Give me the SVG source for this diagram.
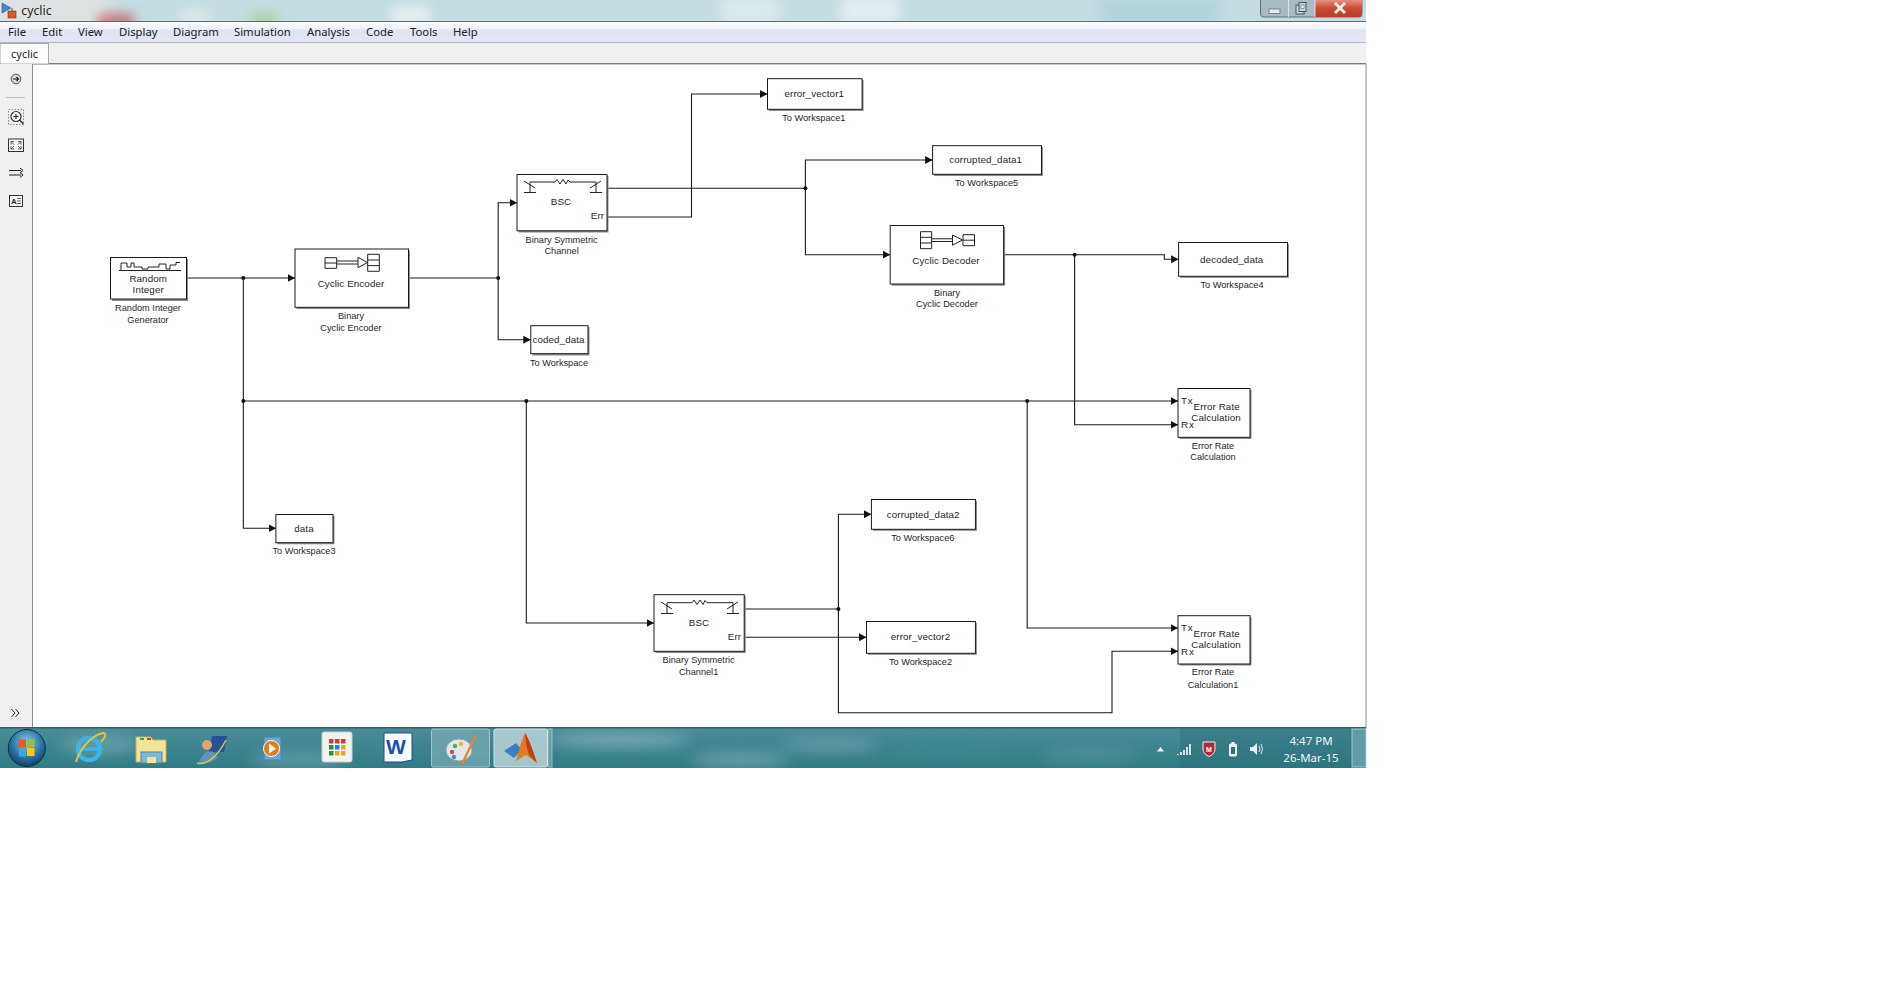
<svg xmlns="http://www.w3.org/2000/svg" width="1890" height="998" viewBox="0 0 1890 998">
<style>
text{font-family:"Liberation Sans",Arial,sans-serif;fill:#262626}
.in{font-size:9.8px;text-anchor:middle;letter-spacing:.1px}
.lb{font-size:9.2px;text-anchor:middle}
.pt{font-size:9.9px;letter-spacing:.8px}
.pe{font-size:9.9px;text-anchor:end}
.mn{font-family:"Noto Sans",sans-serif;font-size:11.3px;fill:#222}
.b{fill:#fff;stroke:#1a1a1a;stroke-width:1}
.s{fill:#8a8a8a}
.ic{fill:none;stroke:#222;stroke-width:1}
.w{fill:none;stroke:#1a1a1a;stroke-width:1.1}
.a{marker-end:url(#arr)}
.j{fill:#111}
.tr{font-family:"Noto Sans",sans-serif;font-size:11.5px;fill:#f2f6f6;text-anchor:middle}
</style>
<defs>
<marker id="arr" markerUnits="userSpaceOnUse" markerWidth="9" markerHeight="9" refX="7.500" refY="4.500" orient="auto"><path d="M0,.5 L7.500,4.500 L0,8.500 Z" fill="#111"/></marker>
<filter id="bl" x="-50%" y="-100%" width="200%" height="300%"><feGaussianBlur stdDeviation="7"/></filter>
<filter id="bl2" x="-60%" y="-150%" width="220%" height="400%"><feGaussianBlur stdDeviation="6"/></filter>
<clipPath id="tc"><rect x="0" y="0" width="1366" height="21"/></clipPath>
<clipPath id="kc"><rect x="0" y="728" width="1366" height="40"/></clipPath>
<linearGradient id="mg" x1="0" y1="0" x2="0" y2="1"><stop offset="0" stop-color="#fdfdfe"/><stop offset=".35" stop-color="#eef0f8"/><stop offset=".4" stop-color="#dfe3f3"/><stop offset="1" stop-color="#e4e7f4"/></linearGradient>
<linearGradient id="kg" x1="0" y1="0" x2="0" y2="1"><stop offset="0" stop-color="#4b8d97"/><stop offset="1" stop-color="#2f7b86"/></linearGradient>
<linearGradient id="cg" x1="0" y1="0" x2="0" y2="1"><stop offset="0" stop-color="#e8998c"/><stop offset=".5" stop-color="#cf4a33"/><stop offset="1" stop-color="#b5402c"/></linearGradient>
<radialGradient id="og" cx=".5" cy=".35" r=".65"><stop offset="0" stop-color="#8cc8e8"/><stop offset=".6" stop-color="#2a78a8"/><stop offset="1" stop-color="#123f63"/></radialGradient>
</defs>
<rect width="1890" height="998" fill="#fff"/>

<g id="window-chrome">
<rect x="0" y="0" width="1366" height="21" fill="#c4dce2"/>
<g clip-path="url(#tc)">
<rect x="-20" y="-10" width="130" height="40" fill="#dfe2e2" filter="url(#bl)"/>
<rect x="98" y="14" width="36" height="14" fill="#c8585a" opacity=".8" filter="url(#bl2)"/>
<rect x="180" y="8" width="30" height="20" fill="#e6ecec" opacity=".7" filter="url(#bl2)"/>
<rect x="250" y="12" width="28" height="14" fill="#a9cf9a" opacity=".8" filter="url(#bl2)"/>
<rect x="390" y="6" width="40" height="20" fill="#eef3f3" opacity=".8" filter="url(#bl2)"/>
<rect x="720" y="-4" width="60" height="30" fill="#dbe9ec" filter="url(#bl)"/>
<rect x="840" y="-4" width="60" height="30" fill="#e2eef0" filter="url(#bl)"/>
<rect x="1100" y="-4" width="120" height="30" fill="#b2d2da" filter="url(#bl)"/>
</g>
<rect x="0" y="21" width="1366" height="1" fill="#5d6a6e"/>
<rect x="0" y="22" width="1366" height="20" fill="url(#mg)"/>
<rect x="0" y="42" width="1366" height="1" fill="#b3b5bd"/>
<rect x="0" y="43" width="1366" height="20" fill="#f0f0f0"/>
<rect x="0" y="63" width="1366" height="1.400" fill="#7f7f7f"/>
<path d="M0,43.500 H48.500 V64 H0 Z" fill="#fff" stroke="#a8a8a8" stroke-width="1"/>
<rect x="0" y="64" width="32" height="664" fill="#f0f0f0"/>
<rect x="32" y="64" width="1" height="664" fill="#8e8e8e"/>
<rect x="1365.500" y="64" width="1" height="664" fill="#8e8e8e"/>
<path d="M2,3 L11,8 L2,13 Z" fill="#3d8fd0" stroke="#1f5f96" stroke-width=".6"/>
<rect x="8" y="11" width="8" height="7" fill="#d9582b" stroke="#8a3517" stroke-width=".6"/>
<path d="M12,8 V11" stroke="#555" fill="none"/>
<text class="mn" x="21.300" y="15" style="font-size:12.300px">cyclic</text>
<text class="mn" x="8" y="36">File</text>
<text class="mn" x="42" y="36">Edit</text>
<text class="mn" x="78" y="36">View</text>
<text class="mn" x="119" y="36">Display</text>
<text class="mn" x="173" y="36">Diagram</text>
<text class="mn" x="234" y="36">Simulation</text>
<text class="mn" x="307" y="36">Analysis</text>
<text class="mn" x="366" y="36">Code</text>
<text class="mn" x="410" y="36">Tools</text>
<text class="mn" x="453" y="36">Help</text>
<text class="mn" x="11" y="58" style="font-size:11px">cyclic</text>
<rect x="1260.500" y="-2" width="101.500" height="19" rx="3" fill="#a9bcc3" stroke="#5f6f76"/>
<path d="M1315,-1 H1359 a3,3 0 0 1 3,3 V14 a3,3 0 0 1 -3,3 H1315 Z" fill="url(#cg)"/>
<path d="M1288.500,0 V17 M1315,0 V17" stroke="#e8eef0" stroke-width=".8"/>
<rect x="1269" y="9" width="11" height="4.500" fill="#e6eaec" stroke="#56646a" stroke-width=".7"/>
<rect x="1296" y="5" width="8" height="9" fill="#cfd8dc" stroke="#46545a"/><rect x="1299" y="2.500" width="7" height="9" fill="#cfd8dc" stroke="#46545a"/><rect x="1301" y="5" width="3" height="3.500" fill="#fff" stroke="#46545a" stroke-width=".6"/>
<path d="M1335,3 L1345,13 M1345,3 L1335,13" stroke="#f1ece6" stroke-width="3"/>
<g id="toolbar">
<circle cx="16" cy="79" r="4.800" fill="#d8d8d8" stroke="#555"/><path d="M13,79 H18 M16.500,77 L18.500,79 L16.500,81" fill="none" stroke="#222" stroke-width="1.200"/>
<path d="M6,97.500 H25" stroke="#bbb"/>
<rect x="8.500" y="109.500" width="15" height="15" fill="none" stroke="#888" stroke-dasharray="1.500 1.500"/>
<circle cx="16" cy="116.500" r="5" fill="#fff" stroke="#333" stroke-width="1.200"/><path d="M13.500,116.500 H18.500 M16,114 V119 M19.500,120 L23.500,124" stroke="#222" stroke-width="1.200"/>
<rect x="8.500" y="139" width="15" height="12.500" fill="#f5f5f5" stroke="#333"/><path d="M11,141.500 H14 M11,141.500 V144.500 M11,141.500 L14,144.500 M21,141.500 H18 M21,141.500 V144.500 M21,141.500 L18,144.500 M11,149 H14 M11,149 V146 M11,149 L14,146 M21,149 H18 M21,149 V146 M21,149 L18,146" stroke="#444" stroke-width=".8" fill="none"/>
<path d="M9,170.500 H21 M9,175 H21 M20,168 L23,170.500 L20,173 M20,172.500 L23,175 L20,177.500" class="ic" stroke-width=".9"/>
<rect x="9.500" y="195.500" width="13" height="11" fill="#fafafa" stroke="#333"/>
<text x="11" y="204" style="font-size:8px;font-weight:bold">A</text><path d="M17,198.500 H21 M17,201 H21 M17,203.500 H21" stroke="#333" stroke-width=".8"/>
<path d="M11.500,709 L15,713 L11.500,717 M15.500,709 L19,713 L15.500,717" class="ic"/>
</g>
</g>

<g id="taskbar">
<rect x="0" y="728" width="1366" height="40" fill="url(#kg)"/>
<g clip-path="url(#kc)">
<ellipse cx="100" cy="745" rx="40" ry="10" fill="#7fb4bc" opacity=".5" filter="url(#bl)"/>
<ellipse cx="300" cy="760" rx="50" ry="10" fill="#7fb4bc" opacity=".45" filter="url(#bl)"/>
<ellipse cx="620" cy="740" rx="70" ry="8" fill="#9cc2c8" opacity=".5" filter="url(#bl)"/>
<ellipse cx="740" cy="760" rx="50" ry="8" fill="#88b4ba" opacity=".6" filter="url(#bl)"/>
<ellipse cx="830" cy="745" rx="50" ry="8" fill="#8ab8be" opacity=".4" filter="url(#bl)"/>
<ellipse cx="950" cy="750" rx="60" ry="8" fill="#3c8f9a" opacity=".5" filter="url(#bl)"/>
<ellipse cx="1090" cy="755" rx="50" ry="8" fill="#6aa4ac" opacity=".4" filter="url(#bl)"/>
<rect x="1180" y="728" width="190" height="40" fill="#2b6f78" opacity=".45"/>
</g>
<rect x="0" y="727" width="1366" height="1.500" fill="#3f5b60"/>
<circle cx="26.800" cy="748" r="18.500" fill="url(#og)" stroke="#0e2f47"/>
<rect x="18.500" y="739.500" width="7.500" height="8" fill="#e8582a"/><rect x="27" y="739" width="7.500" height="8" fill="#8cc63f"/><rect x="19" y="748.500" width="7" height="8" fill="#3fa7e0"/><rect x="27" y="748" width="7.500" height="8" fill="#f7c22a"/>
<circle cx="89" cy="749" r="11" fill="none" stroke="#3fb2e8" stroke-width="4.500"/><path d="M80,749 H98" stroke="#3fb2e8" stroke-width="3.500"/><path d="M76,762 C80,748 92,735 103,733 C107,733 105,738 101,742" fill="none" stroke="#e3c03e" stroke-width="2"/>
<path d="M136,737 H151 L153,740 H166 V762 H136 Z" fill="#f5e39a" stroke="#c9ae55"/><rect x="141" y="752" width="21" height="11" fill="#7fb6d2" stroke="#4c87a6"/><rect x="147" y="757" width="9" height="6" fill="#f5e39a"/><rect x="140" y="738" width="4" height="2" fill="#3f9f4a"/><rect x="147" y="738" width="4" height="2" fill="#c84a3a"/>
<path d="M212,736 H227 L224,752 H209 Z" fill="#2a4f9a"/><circle cx="207" cy="745" r="5" fill="#d9a66e"/><path d="M199,762 C203,752 208,750 213,752 L218,757 C212,763 204,765 199,762 Z" fill="#5e95b8"/><path d="M197,763 C206,766 218,756 226,740" fill="none" stroke="#d9c63f" stroke-width="1.500"/>
<rect x="264" y="737" width="17" height="23" rx="1" fill="#69a9d4" stroke="#4a86b0"/><circle cx="271.500" cy="748.500" r="8" fill="#e87a1e" stroke="#fff"/><path d="M269,743.500 L276,748.500 L269,753.500 Z" fill="#fff"/>
<rect x="322" y="732" width="30" height="30" rx="2" fill="#f3f3f1" stroke="#ccc"/>
<g><rect x="329" y="739" width="4.500" height="4.500" fill="#cc3b3b"/><rect x="335" y="739" width="4.500" height="4.500" fill="#cc3b3b"/><rect x="341" y="739" width="4.500" height="4.500" fill="#cc3b3b"/><rect x="329" y="745" width="4.500" height="4.500" fill="#2a8f4a"/><rect x="335" y="745" width="4.500" height="4.500" fill="#2d7fc9"/><rect x="341" y="745" width="4.500" height="4.500" fill="#e8a623"/><rect x="329" y="751" width="4.500" height="4.500" fill="#2a8f4a"/><rect x="335" y="751" width="4.500" height="4.500" fill="#e8a623"/><rect x="341" y="751" width="4.500" height="4.500" fill="#e8a623"/></g>
<path d="M384,733 H412 V760 L402,762 H384 Z" fill="#f8fbfd" stroke="#1e4b9e"/>
<text x="386" y="754" style="font-size:21px;font-weight:bold;fill:#1c4fa8">W</text>
<rect x="431.500" y="729" width="58" height="38" rx="2" fill="#7eb0b8" opacity=".65" stroke="#d7e5e8"/>
<rect x="494" y="729" width="53.500" height="38" rx="2" fill="#b9d3d7" opacity=".85" stroke="#eef4f5"/>
<rect x="548" y="729" width="4" height="38" fill="#7eb0b8" opacity=".6" stroke="#d7e5e8"/>
<ellipse cx="459" cy="750" rx="13" ry="11" fill="#e4e7ea" stroke="#98a2a8"/><circle cx="452" cy="752" r="2.200" fill="#d24a4a"/><circle cx="455" cy="746" r="2.200" fill="#5aa95a"/><circle cx="461" cy="744" r="2.200" fill="#e8b93a"/><circle cx="454" cy="757" r="2.200" fill="#4a86c8"/><path d="M476,735 L462,764" stroke="#d98a3a" stroke-width="2.500"/>
<path d="M504,751 L516,743 L522,750 L514,758 Z" fill="#3a7fc0"/><path d="M525,733 C530,741 534,754 537,763 L526,755 L516,761 C519,751 521,741 525,733 Z" fill="#e8781f"/><path d="M525,733 C530,741 534,754 537,763 L529,755 L526,744 Z" fill="#b8431a"/>
<path d="M1157,751.500 L1160.500,747 L1164,751.500 Z" fill="#f0f4f4"/>
<path d="M1178,755 V754 M1181,755 V752 M1184,755 V750 M1187,755 V747 M1190,755 V744" stroke="#eef4f4" stroke-width="1.700" fill="none"/>
<path d="M1203,742 H1215 V749 C1215,753 1212,755 1209,756.500 C1206,755 1203,753 1203,749 Z" fill="#b02a3a" stroke="#f2f2f2"/><text x="1209" y="751.500" style="font-size:7px;fill:#fff;text-anchor:middle;font-weight:bold">M</text>
<rect x="1229.500" y="744" width="7" height="12" rx="1" fill="#e8eef0" stroke="#f5f7f7"/><rect x="1231.500" y="742" width="3" height="2" fill="#f0f4f4"/><rect x="1231" y="747" width="4" height="7" fill="#2f6f78"/>
<path d="M1250,747 H1253 L1257,743 V755 L1253,751 H1250 Z" fill="#e8eef0"/><path d="M1259,746 Q1261,749 1259,752 M1261,744 Q1264,749 1261,754" fill="none" stroke="#dfe8ea"/>
<text class="tr" x="1311" y="745">4:47 PM</text>
<text class="tr" x="1311" y="762">26-Mar-15</text>
<rect x="1352" y="729" width="14" height="38" fill="#5f9ca6" stroke="#b7d2d6" stroke-width=".8"/>
</g>

<g id="connectors">
<path class="w a" d="M186.600,278 H295"/>
<path class="w" d="M243.300,278 V401"/>
<path class="w a" d="M243.300,401 V528.300 H276"/>
<path class="w a" d="M243.300,401 H1178"/>
<path class="w a" d="M526.300,401 V623 H654"/>
<path class="w a" d="M1027.200,401 V628 H1178"/>
<path class="w" d="M408.500,278 H498.200"/>
<path class="w a" d="M498.200,278 V202.700 H517"/>
<path class="w a" d="M498.200,278 V339.700 H530.800"/>
<path class="w" d="M607,188.300 H805.400"/>
<path class="w a" d="M607,217 H691.500 V94 H767.400"/>
<path class="w a" d="M805.400,188.300 V160 H932.600"/>
<path class="w a" d="M805.400,188.300 V254.700 H890.200"/>
<path class="w a" d="M1003.600,254.700 H1164.300 V259.300 H1178.600"/>
<path class="w a" d="M1074.600,254.700 V424.700 H1178"/>
<path class="w" d="M744.200,609 H838.400"/>
<path class="w a" d="M838.400,609 V514.300 H871.400"/>
<path class="w a" d="M838.400,609 V712.700 H1112 V651.300 H1178"/>
<path class="w a" d="M744.200,637.300 H866.500"/>
<circle class="j" cx="243.300" cy="278" r="2"/>
<circle class="j" cx="243.300" cy="401" r="2"/>
<circle class="j" cx="526.300" cy="401" r="2"/>
<circle class="j" cx="1027.200" cy="401" r="2"/>
<circle class="j" cx="498.200" cy="278" r="2"/>
<circle class="j" cx="805.400" cy="188.300" r="2"/>
<circle class="j" cx="1074.600" cy="254.700" r="2"/>
<circle class="j" cx="838.400" cy="609" r="2"/>
</g>

<g id="random-integer">
<rect class="s" x="112" y="259" width="76" height="42"/>
<rect class="b" x="110.500" y="257.500" width="76" height="41.500"/>
<path class="ic" stroke-width=".8" d="M119,270.500 H181 M121,270 V263 H127 V267 H131 V263 H134 V267 H142 V269 H148 V267 H159 V264 H166 V269 H170 V265 H176 V262.500 H180"/>
<text class="in" x="148.200" y="282">Random</text>
<text class="in" x="148.200" y="293.300">Integer</text>
<text class="lb" x="148" y="311">Random Integer</text>
<text class="lb" x="148" y="322.700">Generator</text>
</g>

<g id="cyclic-encoder">
<rect class="s" x="296.500" y="250.500" width="113.500" height="58.500"/>
<rect class="b" x="295" y="249" width="113.500" height="58.300"/>
<path class="ic" d="M325,257.700 H336.700 V268.300 H325 Z M325,263 H336.700 M367.700,254.300 H379.300 V271.300 H367.700 Z M367.700,260 H379.300 M367.700,265.600 H379.300 M336.700,261 H358 M336.700,264 H358 M358,257.300 L367.500,262.500 L358,267.700 Z"/>
<text class="in" x="351" y="286.700">Cyclic Encoder</text>
<text class="lb" x="351" y="318.700">Binary</text>
<text class="lb" x="351" y="330.700">Cyclic Encoder</text>
</g>

<g id="bsc">
<rect class="s" x="518.500" y="176" width="90" height="56.500"/>
<rect class="b" x="517" y="174.500" width="90" height="56.300"/>
<path class="ic" d="M530,182 H555 M570,182 H596 M555,182 L557,179.500 L560,184 L563,179.500 L566,184 L568,180 L570,182 M530,182 V192 M524,192.500 H536 M524,181 L535,188 M596,182 V192 M590,192.500 H602 M601,181 L590,188"/>
<text class="in" x="561" y="204.700">BSC</text>
<text class="pe" x="604" y="219">Err</text>
<text class="lb" x="561.600" y="242.700">Binary Symmetric</text>
<text class="lb" x="561.600" y="254.300">Channel</text>
</g>

<g id="coded-data">
<rect class="s" x="532.300" y="327" width="57.200" height="28.500"/>
<rect class="b" x="530.800" y="325.700" width="57.200" height="28"/>
<text class="in" x="558.500" y="342.700">coded_data</text>
<text class="lb" x="559" y="365.700">To Workspace</text>
</g>

<g id="error-vector1">
<rect class="s" x="769" y="80" width="94.600" height="31"/>
<rect class="b" x="767.500" y="78.700" width="94.600" height="30.600"/>
<text class="in" x="814.300" y="97">error_vector1</text>
<text class="lb" x="813.800" y="120.700">To Workspace1</text>
</g>

<g id="corrupted-data1">
<rect class="s" x="934" y="147" width="108.900" height="29"/>
<rect class="b" x="932.600" y="145.700" width="108.900" height="28.600"/>
<text class="in" x="985.700" y="163">corrupted_data1</text>
<text class="lb" x="986.600" y="185.700">To Workspace5</text>
</g>

<g id="cyclic-decoder">
<rect class="s" x="891.700" y="227" width="113.400" height="58.700"/>
<rect class="b" x="890.200" y="225.500" width="113.400" height="58.500"/>
<path class="ic" d="M920.500,231.700 H931.700 V248.700 H920.500 Z M920.500,237.300 H931.700 M920.500,243 H931.700 M963,234.700 H974.500 V245.700 H963 Z M963,240.200 H974.500 M931.700,238.800 H952.500 M931.700,241.500 H952.500 M952.500,235 L962.500,240 L952.500,245.200 Z"/>
<text class="in" x="946" y="263.700">Cyclic Decoder</text>
<text class="lb" x="947" y="295.700">Binary</text>
<text class="lb" x="947" y="307.300">Cyclic Decoder</text>
</g>

<g id="decoded-data">
<rect class="s" x="1180" y="243.800" width="108.900" height="34"/>
<rect class="b" x="1178.600" y="242.500" width="108.900" height="33.800"/>
<text class="in" x="1231.700" y="262.700">decoded_data</text>
<text class="lb" x="1232" y="287.700">To Workspace4</text>
</g>

<g id="error-rate">
<rect class="s" x="1179.500" y="390" width="72" height="49"/>
<rect class="b" x="1178" y="388.500" width="72" height="48.800"/>
<text class="pt" x="1181" y="403.500">Tx</text>
<text class="pt" x="1181" y="427.700">Rx</text>
<text class="in" x="1216.700" y="410">Error Rate</text>
<text class="in" x="1216" y="420.700">Calculation</text>
<text class="lb" x="1213" y="449">Error Rate</text>
<text class="lb" x="1213" y="460">Calculation</text>
</g>

<g id="data">
<rect class="s" x="277.400" y="515.800" width="57.100" height="28.500"/>
<rect class="b" x="275.900" y="514.500" width="57.100" height="28.200"/>
<text class="in" x="304" y="531.700">data</text>
<text class="lb" x="304" y="554">To Workspace3</text>
</g>

<g id="bsc1">
<rect class="s" x="655.500" y="596" width="90.200" height="57"/>
<rect class="b" x="654" y="594.700" width="90.200" height="56.600"/>
<path class="ic" d="M667,602.700 H692 M707,602.700 H733 M692,602.700 L694,600 L697,604.500 L700,600 L703,604.500 L705,600.500 L707,602.700 M667,602.700 V613 M661,613.500 H673 M661,602 L672,609 M733,602.700 V613 M727,613.500 H739 M738,602 L727,609"/>
<text class="in" x="699" y="626">BSC</text>
<text class="pe" x="741" y="640">Err</text>
<text class="lb" x="698.600" y="663">Binary Symmetric</text>
<text class="lb" x="698.600" y="675">Channel1</text>
</g>

<g id="corrupted-data2">
<rect class="s" x="873" y="500.800" width="104" height="30"/>
<rect class="b" x="871.400" y="499.500" width="104" height="29.800"/>
<text class="in" x="923.200" y="518">corrupted_data2</text>
<text class="lb" x="922.800" y="541">To Workspace6</text>
</g>

<g id="error-vector2">
<rect class="s" x="868" y="622.800" width="108.900" height="32"/>
<rect class="b" x="866.500" y="621.500" width="108.900" height="31.800"/>
<text class="in" x="920.500" y="640">error_vector2</text>
<text class="lb" x="920.500" y="665">To Workspace2</text>
</g>

<g id="error-rate1">
<rect class="s" x="1179.500" y="617" width="72" height="48.500"/>
<rect class="b" x="1178" y="615.700" width="72" height="48.300"/>
<text class="pt" x="1181" y="631">Tx</text>
<text class="pt" x="1181" y="654.700">Rx</text>
<text class="in" x="1216.700" y="636.700">Error Rate</text>
<text class="in" x="1216" y="647.700">Calculation</text>
<text class="lb" x="1213" y="675">Error Rate</text>
<text class="lb" x="1213" y="687.700">Calculation1</text>
</g>
</svg>
